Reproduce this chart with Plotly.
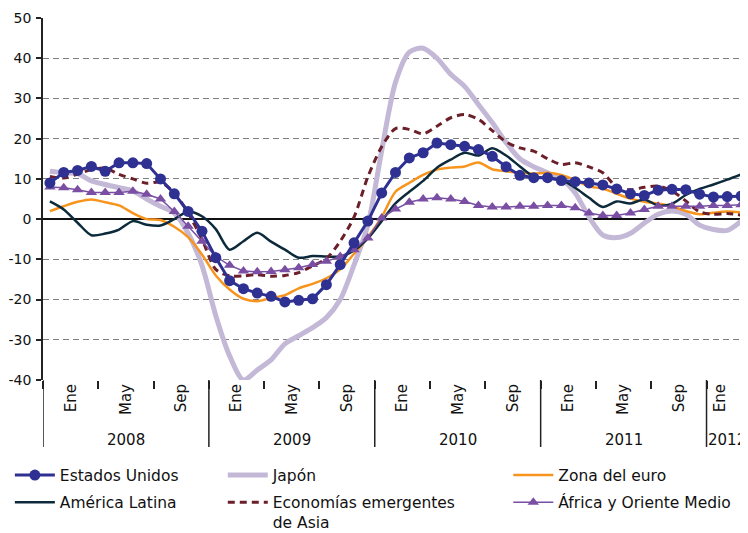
import plotly.graph_objects as go

# ---------------- data (monthly, Jan 2008 - Mar 2012) ----------------
n_months = 51
month_pos = [i + 0.5 for i in range(n_months)]

estados_unidos = [9.0, 11.6, 12.1, 13.1, 11.9, 14.0, 14.0, 13.8, 10.0, 6.3, 1.9, -3.0,
                  -9.6, -15.3, -17.3, -18.4, -19.2, -20.6, -20.2, -19.8, -16.3, -11.3, -5.9, -0.5,
                  6.5, 11.6, 15.2, 16.5, 18.9, 18.5, 18.1, 17.3, 15.6, 13.0, 10.9, 10.3,
                  10.3, 9.6, 9.3, 9.0, 8.5, 7.5, 6.3, 5.9, 7.2, 7.4, 7.3, 6.2,
                  5.5, 5.6, 5.7]
japon = [11.9, 11.5, 11.3, 9.5, 8.6, 7.8, 7.0, 5.0, 3.2, 1.5, -3.5, -11.5,
         -24.0, -34.0, -40.0, -37.5, -35.0, -31.0, -29.0, -27.0, -24.5, -20.0, -11.4, -1.5,
         17.0, 34.0, 41.5, 42.5, 40.0, 36.0, 33.0, 28.5, 24.0, 19.0, 15.0, 13.0,
         11.5, 10.0, 6.5, 0.5, -4.0, -4.6, -3.5, -1.0, 1.2, 2.0, 1.2, -1.5,
         -2.6, -2.8, -0.5]
zona_euro = [2.0, 3.2, 4.3, 4.9, 4.2, 3.4, 1.5, 0.0, -0.2, -1.9, -4.5, -8.8,
             -14.0, -17.5, -19.8, -20.4, -19.6, -18.9, -17.2, -16.1, -14.7, -12.5, -8.6, -4.5,
             0.5, 6.8, 9.0, 11.0, 12.3, 12.8, 13.1, 14.1, 12.4, 11.9, 11.5, 11.3,
             11.5, 11.0, 9.7, 8.1, 7.6, 6.3, 5.1, 4.3, 3.9, 3.2, 2.0, 1.2,
             1.6, 1.9, 1.7]
america_latina = [4.4, 2.4, -0.9, -4.0, -3.6, -2.6, -0.5, -1.4, -1.6, 0.0, 1.9, 0.7,
                  -2.5, -7.6, -5.5, -3.4, -5.6, -7.6, -9.6, -9.2, -9.3, -9.3, -7.8, -4.8,
                  -0.5, 3.9, 6.8, 9.5, 12.8, 14.8, 16.5, 15.8, 17.6, 15.8, 13.1, 10.6,
                  10.2, 9.8, 7.8, 5.3, 3.0, 4.4, 3.9, 4.9, 3.4, 3.8, 6.0, 7.5,
                  8.6, 9.8, 11.1]
asia_emergente = [10.6, 10.2, 11.2, 12.3, 12.7, 11.1, 10.0, 8.9, 9.2, 6.5, 1.5, -5.0,
                  -12.5, -14.1, -14.1, -13.8, -14.2, -14.0, -13.3, -11.6, -9.8, -5.5, 0.5, 10.5,
                  18.0, 22.5, 22.3, 21.2, 23.1, 25.2, 26.0, 24.8, 22.0, 19.2, 17.7, 16.9,
                  15.0, 13.6, 14.0, 13.0, 11.5, 8.0, 7.3, 7.9, 8.2, 7.0, 4.5, 1.8,
                  1.2, 1.4, 1.0]
africa_oriente = [8.0, 7.8, 7.3, 6.6, 6.6, 6.6, 6.9, 6.2, 5.0, 1.9, -1.8, -5.5,
                  -9.3, -11.5, -12.9, -13.1, -13.0, -12.6, -12.1, -11.3, -10.5, -9.3, -7.6, -4.7,
                  0.3, 2.5, 4.2, 5.0, 5.3, 5.0, 4.4, 3.4, 3.0, 3.0, 3.2, 3.2,
                  3.4, 3.4, 2.8, 1.5, 0.9, 0.9, 1.5, 2.4, 3.2, 3.2, 3.2, 3.2,
                  3.4, 3.4, 3.6]

tick_pos = [2, 6, 10, 14, 18, 22, 26, 30, 34, 38, 42, 46, 49]
tick_text = ["Ene", "May", "Sep"] * 4 + ["Ene"]
y_tick_vals = [-40, -30, -20, -10, 0, 10, 20, 30, 40, 50]
y_tick_text = ["-40", "-30", "-20", "-10", "0", "10", "20", "30", "40", "50"]
year_pos = [6, 18, 30, 42, 49.5]
year_text = ["2008", "2009", "2010", "2011", "2012"]
year_bounds = [0, 12, 24, 36, 48]

FONT = "DejaVu Sans"

fig = go.Figure()

fig.add_trace(go.Scatter(x=month_pos, y=japon, name="Japón", mode="lines",
                         line=dict(color="#c4b8d7", width=5, shape="spline", smoothing=0.8),
                         legend="legend2", legendrank=1, legendgroup="g2"))
fig.add_trace(go.Scatter(x=month_pos, y=zona_euro, name="Zona del euro", mode="lines",
                         line=dict(color="#f7941d", width=2.5, shape="spline", smoothing=0.8),
                         legend="legend3", legendrank=1, legendgroup="g3"))
fig.add_trace(go.Scatter(x=month_pos, y=america_latina, name="América Latina", mode="lines",
                         line=dict(color="#0c2a3a", width=2.5, shape="spline", smoothing=0.8),
                         legend="legend", legendrank=2, legendgroup="g4"))
fig.add_trace(go.Scatter(x=month_pos, y=asia_emergente, name="Economías emergentes<br>de Asia",
                         mode="lines",
                         line=dict(color="#6b1f28", width=3, dash="7px,5px", shape="spline", smoothing=0.8),
                         legend="legend2", legendrank=2, legendgroup="g5"))
fig.add_trace(go.Scatter(x=month_pos, y=africa_oriente, name="África y Oriente Medio",
                         mode="lines+markers",
                         line=dict(color="#7a4fa3", width=1.5),
                         marker=dict(symbol="triangle-up", size=10, color="#7a4fa3"),
                         legend="legend3", legendrank=2, legendgroup="g6"))
fig.add_trace(go.Scatter(x=month_pos, y=estados_unidos, name="Estados Unidos",
                         mode="lines+markers",
                         line=dict(color="#2e3192", width=3),
                         marker=dict(symbol="circle", size=11, color="#2e3192"),
                         legend="legend", legendrank=1, legendgroup="g1"))

# year separators and year labels
for b in year_bounds:
    fig.add_shape(type="line", xref="x", yref="paper", x0=b, x1=b, y0=0, y1=-0.185,
                  line=dict(color="#222222", width=1.5), layer="above")
for p, t in zip(year_pos, year_text):
    fig.add_annotation(x=p, y=-0.166, xref="x", yref="paper", text=t, showarrow=False,
                       font=dict(family=FONT, size=15, color="#111111"),
                       xanchor="center", yanchor="middle")

legend_common = dict(font=dict(family=FONT, size=15.5, color="#111111"), itemwidth=40,
                     valign="top", traceorder="grouped", tracegroupgap=4,
                     bgcolor="rgba(0,0,0,0)", xanchor="left", yanchor="top",
                     orientation="v")

# the page body has an 8px margin, so the figure is sized/offset to compensate
fig.update_layout(
    width=740, height=525,
    margin=dict(l=35, r=0, t=10, b=153, autoexpand=False),
    plot_bgcolor="white", paper_bgcolor="white",
    font=dict(family=FONT, size=14, color="#111111"),
    showlegend=True,
    legend=dict(x=-0.047, y=-0.2168, **legend_common),
    legend2=dict(x=0.255, y=-0.2168, **legend_common),
    legend3=dict(x=0.66, y=-0.2168, **legend_common),
    xaxis=dict(range=[0, n_months], tickmode="array", tickvals=tick_pos, ticktext=tick_text,
               tickangle=-90, ticks="", showgrid=False, showline=False, zeroline=False,
               tickfont=dict(family=FONT, size=15, color="#111111"),
               minor=dict(tickmode="linear", tick0=0, dtick=4, ticks="outside", ticklen=8,
                          tickcolor="#222222", tickwidth=1.5, showgrid=False)),
    yaxis=dict(range=[-40, 50], tickmode="array", tickvals=y_tick_vals, ticktext=y_tick_text,
               showgrid=True, gridcolor="#7f7f7f",
               griddash="6px,4px", gridwidth=1.2, zeroline=True, zerolinecolor="#111111",
               zerolinewidth=1.5, showline=True, linecolor="#222222", linewidth=1.5,
               ticks="outside", ticklen=5, tickcolor="#222222", tickwidth=1.5,
               ticklabelstandoff=2,
               tickfont=dict(family=FONT, size=14, color="#111111")),
)

fig.write_html("out.html")
